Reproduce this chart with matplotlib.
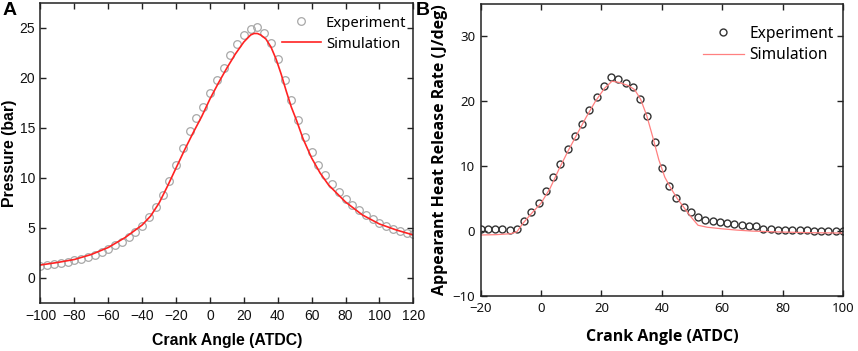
import numpy as np
import matplotlib
matplotlib.use("Agg")
import matplotlib.pyplot as plt

# panel A: cylinder pressure
angle_a = np.arange(-100, 121, 4)
pressure_exp = [1.2, 1.3, 1.4, 1.5, 1.6, 1.75, 1.9, 2.1, 2.3, 2.6, 2.9, 3.25, 3.6, 4.05,
                4.6, 5.2, 6.1, 7.1, 8.3, 9.7, 11.3, 13.0, 14.7, 16.0, 17.1, 18.45, 19.75,
                21.0, 22.3, 23.4, 24.3, 24.9, 25.05, 24.5, 23.5, 21.9, 19.8, 17.75, 15.75,
                14.05, 12.6, 11.3, 10.3, 9.4, 8.6, 7.85, 7.3, 6.75, 6.3, 5.9, 5.5, 5.2,
                4.9, 4.7, 4.45, 4.35]
angle_a_sim = [-100, -90, -80, -70, -60, -50, -40, -35, -30, -25, -20, -15, -10, -5, 0, 5,
               10, 15, 20, 24, 26, 28, 30, 33, 36, 39, 42, 45, 48, 51, 55, 60, 65, 70, 80,
               90, 100, 110, 120]
pressure_sim = [1.3, 1.55, 1.85, 2.35, 3.05, 4.05, 5.3, 6.2, 7.5, 9.2, 11.0, 12.8, 14.5,
                16.1, 17.9, 19.5, 21.0, 22.4, 23.6, 24.3, 24.45, 24.45, 24.3, 23.9, 23.1,
                21.9, 20.4, 18.7, 17.1, 15.8, 13.9, 12.0, 10.5, 9.3, 7.6, 6.3, 5.4, 4.8, 4.3]

# panel B: apparent heat release rate
angle_b = np.linspace(-20, 100, 51)
hrr_exp = [0.26, 0.26, 0.26, 0.26, 0.2, 0.26, 1.5, 2.9, 4.4, 6.2, 8.3, 10.4, 12.6, 14.7,
           16.5, 18.6, 20.7, 22.4, 23.7, 23.4, 22.9, 22.2, 20.4, 17.8, 13.7, 9.7, 7.0, 5.1,
           3.7, 2.9, 2.15, 1.74, 1.54, 1.33, 1.18, 1.08, 0.92, 0.82, 0.77, 0.3, 0.26, 0.15,
           0.15, 0.1, 0.1, 0.1, 0.05, 0.05, 0.0, 0.0, -0.05]
angle_b_sim = [-20, -15, -10, -8, -6, -3, 0, 3, 6, 9, 12, 15, 18, 21, 23.5, 26, 29, 31, 33,
               35, 37, 39, 41, 43, 45, 48, 50, 52, 55, 60, 65, 70, 80, 90, 100]
hrr_sim = [-0.6, -0.55, -0.4, -0.1, 1.2, 2.8, 4.3, 6.6, 9.6, 12.4, 15.0, 17.6, 20.0, 22.0,
           23.1, 22.9, 22.4, 21.8, 20.3, 17.8, 14.5, 11.0, 8.3, 6.6, 5.1, 3.2, 2.0, 0.9, 0.6,
           0.35, 0.15, 0.0, -0.15, -0.25, -0.3]

fig = plt.figure(figsize=(8.58, 3.51), dpi=100)
ax1 = fig.add_axes([0.0472, 0.1368, 0.4345, 0.8547])
ax2 = fig.add_axes([0.5602, 0.1567, 0.4223, 0.8319])

ax1.plot(angle_a, pressure_exp, "o", mfc="none", mec="#a8a8a8", ms=5.5, mew=0.9,
         label="Experiment")
ax1.plot(angle_a_sim, pressure_sim, color="#ff2222", lw=1.2, label="Simulation")
ax1.set_xlim(-100, 120)
ax1.set_ylim(-2.5, 27.5)
ax1.set_xticks(range(-100, 121, 20))
ax1.set_yticks(range(0, 26, 5))
ax1.set_xlabel("Crank Angle (ATDC)", family="Liberation Sans", fontweight="bold",
               fontsize=11.4, va="top")
ax1.set_ylabel("Pressure (bar)", family="Liberation Sans", fontweight="bold", fontsize=11.4)
for t in ax1.get_xticklabels() + ax1.get_yticklabels():
    t.set_family("Liberation Sans")
    t.set_fontsize(10)
ax1.legend(loc="upper left", bbox_to_anchor=(0.648, 0.958), frameon=False,
           borderpad=0, borderaxespad=0, handlelength=2.6, handletextpad=0.35,
           labelspacing=0.4, numpoints=1, prop={"family": "Noto Sans", "size": 10.7})

ax2.plot(angle_b, hrr_exp, "o", mfc="none", mec="#333333", ms=5, mew=1.0,
         label="Experiment")
ax2.plot(angle_b_sim, hrr_sim, color="#ff8080", lw=0.9, label="Simulation")
ax2.set_xlim(-20, 100)
ax2.set_ylim(-10, 35)
ax2.set_xticks(range(-20, 101, 20))
ax2.set_yticks(range(-10, 31, 10))
ax2.set_xlabel("Crank Angle (ATDC)", family="Open Sans", fontweight="bold", fontsize=11.5)
ax2.set_ylabel("Appearant Heat Release Rate (J/deg)", family="Open Sans",
               fontweight="bold", fontsize=11.5)
for t in ax2.get_xticklabels() + ax2.get_yticklabels():
    t.set_family("Noto Sans")
    t.set_fontsize(9.5)
ax2.legend(loc="upper left", bbox_to_anchor=(0.614, 0.925), frameon=False,
           borderpad=0, borderaxespad=0, handlelength=2.6, handletextpad=0.35,
           labelspacing=0.35, numpoints=1, prop={"family": "Noto Sans", "size": 11.2})

for ax in (ax1, ax2):
    ax.tick_params(direction="in", length=4, width=1, top=True, right=True, pad=4,
                   colors="#222222", labelcolor="#111111")
    for sp in ax.spines.values():
        sp.set_linewidth(1.1)
        sp.set_color("#222222")

ax1.yaxis.set_label_coords(-0.063, 0.5)
ax1.xaxis.set_label_coords(0.5, -0.1)
ax2.yaxis.set_label_coords(-0.09, 0.5)
ax2.xaxis.set_label_coords(0.5, -0.113)
ax2.xaxis.label.set_va("top")

fig.text(0.003, 0.993, "A", family="Liberation Sans", fontweight="bold", fontsize=14,
         va="top", ha="left")
fig.text(0.485, 0.993, "B", family="Liberation Sans", fontweight="bold", fontsize=14,
         va="top", ha="left")

fig.savefig("out.png", dpi=100)
